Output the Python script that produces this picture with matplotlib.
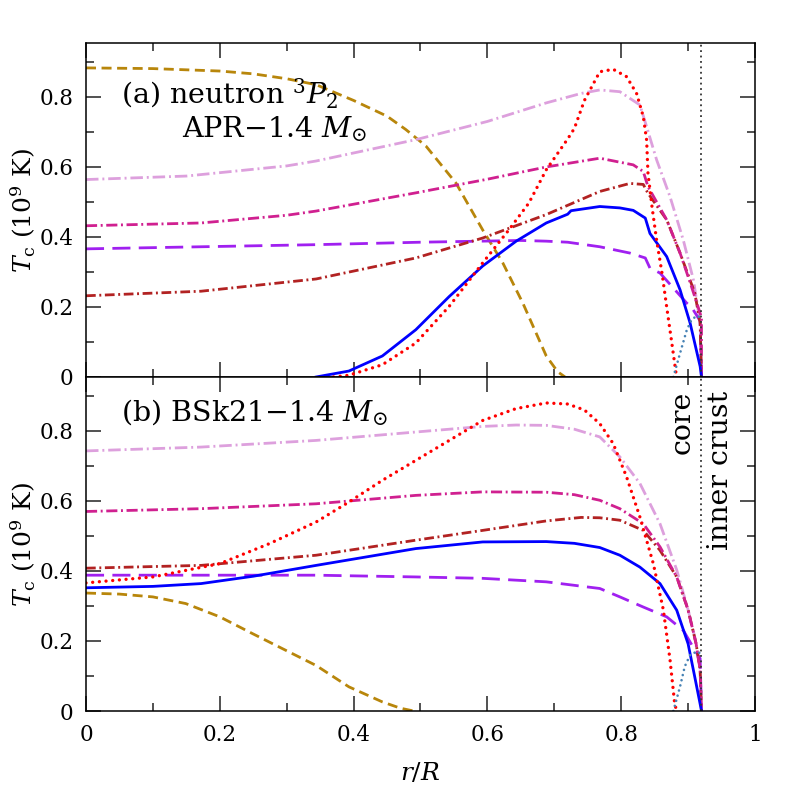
import matplotlib
matplotlib.use("Agg")
import matplotlib.pyplot as plt
from matplotlib.ticker import MultipleLocator, FixedLocator

plt.rcParams['font.family'] = ['DejaVu Serif']
plt.rcParams['mathtext.fontset'] = 'dejavuserif'

# ---------------- panel (a) APR-1.4 Msun ----------------
gold_a_x = [0, 0.1, 0.2, 0.25, 0.3, 0.344, 0.4, 0.45, 0.478, 0.508, 0.553, 0.593, 0.623, 0.653, 0.688, 0.705, 0.716]
gold_a_y = [0.883, 0.881, 0.874, 0.866, 0.852, 0.835, 0.79, 0.745, 0.707, 0.66, 0.554, 0.42, 0.326, 0.211, 0.06, 0.015, 0]

plum_a_x = [0, 0.15, 0.3, 0.344, 0.493, 0.6, 0.688, 0.74, 0.768, 0.798, 0.828, 0.838, 0.853, 0.873, 0.893, 0.908, 0.918, 0.92]
plum_a_y = [0.564, 0.574, 0.603, 0.617, 0.678, 0.73, 0.783, 0.81, 0.82, 0.815, 0.777, 0.715, 0.62, 0.515, 0.39, 0.277, 0.154, 0]

mag_a_x = [0, 0.172, 0.3, 0.344, 0.493, 0.6, 0.688, 0.768, 0.818, 0.833, 0.840, 0.868, 0.888, 0.903, 0.915, 0.92, 0.92]
mag_a_y = [0.432, 0.44, 0.462, 0.474, 0.526, 0.565, 0.60, 0.625, 0.606, 0.587, 0.544, 0.449, 0.354, 0.27, 0.20, 0.17, 0]

brown_a_x = [0, 0.172, 0.344, 0.493, 0.593, 0.688, 0.768, 0.813, 0.833, 0.840, 0.868, 0.888, 0.910, 0.918, 0.92]
brown_a_y = [0.232, 0.245, 0.28, 0.34, 0.397, 0.464, 0.53, 0.553, 0.55, 0.525, 0.449, 0.354, 0.24, 0.154, 0]

blue_a_x = [0.344, 0.393, 0.443, 0.493, 0.543, 0.593, 0.643, 0.688, 0.72, 0.725, 0.768, 0.798, 0.818, 0.836, 0.843, 0.868, 0.888, 0.903, 0.918, 0.92]
blue_a_y = [0, 0.017, 0.06, 0.135, 0.23, 0.317, 0.388, 0.44, 0.465, 0.475, 0.487, 0.483, 0.476, 0.454, 0.41, 0.344, 0.249, 0.154, 0.03, 0]

purple_a_x = [0, 0.344, 0.5, 0.65, 0.688, 0.72, 0.768, 0.813, 0.836, 0.843, 0.858, 0.878, 0.898, 0.905, 0.918, 0.92]
purple_a_y = [0.366, 0.378, 0.385, 0.39, 0.388, 0.385, 0.372, 0.354, 0.34, 0.311, 0.297, 0.254, 0.211, 0.2, 0.16, 0]

red_a_x = [0.37, 0.393, 0.443, 0.493, 0.543, 0.593, 0.632, 0.662, 0.688, 0.72, 0.73, 0.745, 0.768, 0.788, 0.808, 0.823, 0.833, 0.838, 0.840, 0.846, 0.853, 0.861, 0.868, 0.875, 0.882, 0.884]
red_a_y = [0, 0.005, 0.035, 0.097, 0.202, 0.326, 0.42, 0.497, 0.592, 0.68, 0.71, 0.79, 0.872, 0.879, 0.858, 0.81, 0.744, 0.677, 0.583, 0.487, 0.39, 0.297, 0.20, 0.106, 0.01, 0]

steel_a_x = [0.878, 0.888, 0.898, 0.905, 0.913, 0.918]
steel_a_y = [0, 0.068, 0.134, 0.163, 0.175, 0.17]

# ---------------- panel (b) BSk21-1.4 Msun ----------------
gold_b_x = [0, 0.05, 0.1, 0.149, 0.2, 0.249, 0.299, 0.344, 0.393, 0.443, 0.47, 0.49]
gold_b_y = [0.337, 0.334, 0.326, 0.307, 0.269, 0.221, 0.173, 0.13, 0.069, 0.026, 0.008, 0]

plum_b_x = [0, 0.172, 0.344, 0.493, 0.593, 0.643, 0.688, 0.73, 0.768, 0.798, 0.828, 0.858, 0.883, 0.90, 0.91, 0.918, 0.92]
plum_b_y = [0.743, 0.754, 0.773, 0.797, 0.813, 0.817, 0.816, 0.805, 0.783, 0.726, 0.65, 0.535, 0.403, 0.289, 0.211, 0.117, 0]

mag_b_x = [0, 0.172, 0.344, 0.493, 0.593, 0.688, 0.73, 0.768, 0.798, 0.833, 0.858, 0.883, 0.90, 0.912, 0.918, 0.92]
mag_b_y = [0.57, 0.578, 0.592, 0.616, 0.626, 0.625, 0.618, 0.602, 0.578, 0.535, 0.469, 0.383, 0.289, 0.192, 0.117, 0]

brown_b_x = [0, 0.172, 0.344, 0.493, 0.593, 0.688, 0.74, 0.768, 0.798, 0.833, 0.858, 0.883, 0.90, 0.912, 0.918, 0.92]
brown_b_y = [0.408, 0.416, 0.445, 0.488, 0.516, 0.543, 0.553, 0.552, 0.545, 0.516, 0.459, 0.383, 0.289, 0.192, 0.117, 0]

blue_b_x = [0, 0.1, 0.172, 0.25, 0.344, 0.493, 0.593, 0.688, 0.73, 0.768, 0.798, 0.828, 0.858, 0.883, 0.90, 0.91, 0.918, 0.92]
blue_b_y = [0.352, 0.356, 0.364, 0.385, 0.416, 0.464, 0.483, 0.484, 0.479, 0.467, 0.445, 0.411, 0.364, 0.288, 0.192, 0.097, 0.02, 0]

purple_b_x = [0, 0.344, 0.493, 0.593, 0.688, 0.768, 0.798, 0.833, 0.868, 0.893, 0.91, 0.918, 0.92]
purple_b_y = [0.388, 0.388, 0.383, 0.379, 0.369, 0.35, 0.326, 0.297, 0.269, 0.23, 0.174, 0.15, 0]

red_b_x = [0, 0.1, 0.2, 0.274, 0.344, 0.393, 0.443, 0.493, 0.543, 0.593, 0.643, 0.688, 0.72, 0.745, 0.768, 0.788, 0.808, 0.828, 0.848, 0.863, 0.873, 0.880, 0.883]
red_b_y = [0.366, 0.383, 0.421, 0.478, 0.54, 0.597, 0.659, 0.716, 0.773, 0.83, 0.864, 0.88, 0.877, 0.86, 0.821, 0.764, 0.669, 0.554, 0.421, 0.289, 0.146, 0.02, 0]

steel_b_x = [0.878, 0.888, 0.895, 0.903, 0.913, 0.918]
steel_b_y = [0, 0.07, 0.127, 0.16, 0.17, 0.165]

core_edge = 0.92
x_ticks = [0, 0.2, 0.4, 0.6, 0.8, 1]
x_ticklabels = ['0', '0.2', '0.4', '0.6', '0.8', '1']
y_ticks = [0, 0.2, 0.4, 0.6, 0.8]
y_ticklabels = ['0', '0.2', '0.4', '0.6', '0.8']

styles = {
    'gold':   dict(color='#B8860B', lw=2.0, ls=(0, (3.6, 2.0)), cap='butt'),
    'plum':   dict(color='#DDA0DD', lw=2.0, ls=(0, (4.5, 1.4, 0.7, 1.4)), cap='butt'),
    'mag':    dict(color='#D02090', lw=2.0, ls=(0, (4.0, 1.3, 0.7, 1.3)), cap='butt'),
    'brown':  dict(color='#B22222', lw=2.0, ls=(0, (3.5, 1.3, 0.7, 1.3)), cap='butt'),
    'purple': dict(color='#A020F0', lw=2.0, ls=(0, (6.5, 3.0)), cap='butt'),
    'blue':   dict(color='#0000FF', lw=2.0, ls='-', cap='butt'),
    'red':    dict(color='#FF0000', lw=2.4, ls=(0, (0.01, 2.0)), cap='round'),
    'steel':  dict(color='#4682B4', lw=1.9, ls=(0, (0.01, 2.0)), cap='round'),
}

fig = plt.figure(figsize=(7.97, 7.97), dpi=100)
ax_a = fig.add_axes([0.1079, 0.527, 0.8394, 0.419])
ax_b = fig.add_axes([0.1079, 0.1079, 0.8394, 0.419])

panels = [
    (ax_a, [('gold', gold_a_x, gold_a_y), ('plum', plum_a_x, plum_a_y), ('purple', purple_a_x, purple_a_y),
            ('brown', brown_a_x, brown_a_y), ('mag', mag_a_x, mag_a_y), ('blue', blue_a_x, blue_a_y),
            ('red', red_a_x, red_a_y), ('steel', steel_a_x, steel_a_y)]),
    (ax_b, [('gold', gold_b_x, gold_b_y), ('plum', plum_b_x, plum_b_y), ('purple', purple_b_x, purple_b_y),
            ('brown', brown_b_x, brown_b_y), ('mag', mag_b_x, mag_b_y), ('blue', blue_b_x, blue_b_y),
            ('red', red_b_x, red_b_y), ('steel', steel_b_x, steel_b_y)]),
]

for ax, curves in panels:
    for name, xs, ys in curves:
        st = styles[name]
        ax.plot(xs, ys, color=st['color'], lw=st['lw'], linestyle=st['ls'],
                dash_capstyle=st['cap'], solid_joinstyle='round')
    ax.axvline(core_edge, color='#333333', lw=1.3, linestyle=(0, (1, 2)))
    ax.set_xlim(0, 1)
    ax.set_ylim(0, 0.954)
    ax.xaxis.set_major_locator(FixedLocator(x_ticks))
    ax.xaxis.set_minor_locator(MultipleLocator(0.1))
    ax.yaxis.set_major_locator(FixedLocator(y_ticks))
    ax.yaxis.set_minor_locator(MultipleLocator(0.1))
    ax.tick_params(which='both', direction='in', top=True, right=True, width=1.1, colors='#222222')
    ax.tick_params(which='major', length=11, labelsize=15.5, pad=9, labelcolor='black')
    ax.tick_params(which='minor', length=5.5)
    ax.set_yticklabels(y_ticklabels)
    for sp in ax.spines.values():
        sp.set_linewidth(1.1)
    ax.set_ylabel(r'$T_{\rm c}$ (10$^9$ K)', fontsize=18)
    ax.yaxis.set_label_coords(-0.072, 0.5)

ax_a.set_xticklabels([])
ax_b.set_xticklabels(x_ticklabels)
ax_b.set_xlabel(r'$r/R$', fontsize=18)
ax_b.xaxis.set_label_coords(0.5, -0.15)

ax_a.text(0.053, 0.82, r'(a) neutron $^3P_2$', transform=ax_a.transAxes, fontsize=20.5, va='baseline', ha='left')
ax_a.text(0.143, 0.716, 'APR\u22121.4 $M_{\\odot}$', transform=ax_a.transAxes, fontsize=20.5, va='baseline', ha='left')
ax_b.text(0.053, 0.871, '(b) BSk21\u22121.4 $M_{\\odot}$', transform=ax_b.transAxes, fontsize=20.5, va='baseline', ha='left')

ax_b.text(0.891, 0.96, 'core', transform=ax_b.transAxes, fontsize=20.5, rotation=90, ha='center', va='top')
ax_b.text(0.948, 0.96, 'inner crust', transform=ax_b.transAxes, fontsize=20.5, rotation=90, ha='center', va='top')

fig.savefig('out.png', dpi=100)
